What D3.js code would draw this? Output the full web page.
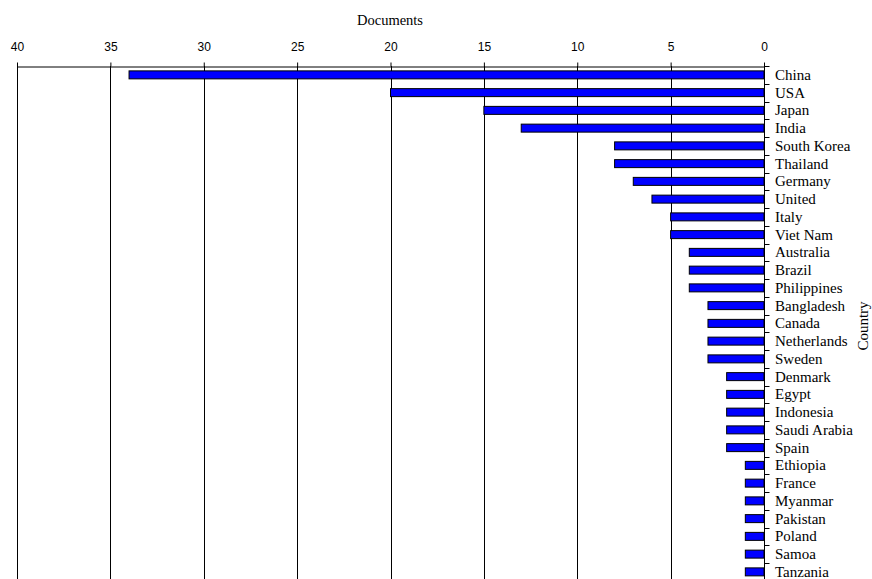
<!DOCTYPE html>
<html>
<head>
<meta charset="utf-8">
<script src="https://cdn.jsdelivr.net/npm/d3@7"></script>
<style>
  html, body { margin: 0; padding: 0; background: #fff; }
  svg { display: block; }
</style>
</head>
<body>
<svg id="chart" width="872" height="579"></svg>
<script>
// Documents per country
const countries = [
  "China", "USA", "Japan", "India", "South Korea", "Thailand", "Germany",
  "United", "Italy", "Viet Nam", "Australia", "Brazil", "Philippines",
  "Bangladesh", "Canada", "Netherlands", "Sweden", "Denmark", "Egypt",
  "Indonesia", "Saudi Arabia", "Spain", "Ethiopia", "France", "Myanmar",
  "Pakistan", "Poland", "Samoa", "Tanzania"
];
const documents = [
  34, 20, 15, 13, 8, 8, 7,
  6, 5, 5, 4, 4, 4,
  3, 3, 3, 3, 2, 2,
  2, 2, 2, 1, 1, 1,
  1, 1, 1, 1
];
const xTicks = [0, 5, 10, 15, 20, 25, 30, 35, 40];
const xTitle = "Documents";
const yTitle = "Country";

const data = countries.map((c, i) => ({ country: c, value: documents[i] }));

const svg = d3.select("#chart");
const plotLeft = 17, plotRight = 764, plotTop = 66, step = 17.75;
const plotBottom = plotTop + step * countries.length;

const x = d3.scaleLinear().domain([0, 40]).range([plotRight, plotLeft]);
const y = d3.scaleBand().domain(countries).range([plotTop, plotBottom]).padding(0);
const barH = y.bandwidth() * 0.45;

// vertical grid lines
svg.append("g")
  .selectAll("line")
  .data(xTicks.filter(v => v > 0))
  .join("line")
  .attr("x1", d => Math.round(x(d)) + 0.5)
  .attr("x2", d => Math.round(x(d)) + 0.5)
  .attr("y1", plotTop)
  .attr("y2", 600)
  .attr("stroke", "#000")
  .attr("stroke-width", 1);

// bars
svg.append("g")
  .selectAll("rect")
  .data(data)
  .join("rect")
  .attr("x", d => x(d.value))
  .attr("y", d => y(d.country) + (y.bandwidth() - barH) / 2)
  .attr("width", d => x(0) - x(d.value))
  .attr("height", barH)
  .attr("fill", "#0000ff")
  .attr("stroke", "#000")
  .attr("stroke-width", 1);

// top axis
const xAxis = svg.append("g")
  .attr("transform", `translate(0,${plotTop + 0.5})`)
  .call(d3.axisTop(x).tickValues(xTicks).tickSize(4).tickSizeOuter(0).tickPadding(12));
xAxis.selectAll("text")
  .attr("font-family", "'Liberation Sans', Arial, sans-serif")
  .attr("font-size", 12)
  .attr("fill", "#000");
xAxis.selectAll("line, path").attr("stroke", "#000");

// right axis: line, boundary ticks and category labels
const yAxis = svg.append("g").attr("transform", `translate(${plotRight + 0.5},0)`);
yAxis.append("line")
  .attr("x1", 0).attr("x2", 0)
  .attr("y1", plotTop).attr("y2", 600)
  .attr("stroke", "#000");
yAxis.selectAll("line.tick")
  .data(countries.map(c => y(c)).concat([plotBottom]))
  .join("line")
  .attr("class", "tick")
  .attr("x1", 0).attr("x2", 5)
  .attr("y1", d => Math.round(d) + 0.5)
  .attr("y2", d => Math.round(d) + 0.5)
  .attr("stroke", "#000");
yAxis.selectAll("text")
  .data(countries)
  .join("text")
  .attr("x", 10.5)
  .attr("y", d => y(d) + y.bandwidth() / 2)
  .attr("dy", "0.34em")
  .attr("font-family", "'Liberation Serif', 'Times New Roman', serif")
  .attr("font-size", 15)
  .attr("fill", "#000")
  .text(d => d);

// titles
svg.append("text")
  .attr("x", 390)
  .attr("y", 25)
  .attr("text-anchor", "middle")
  .attr("font-family", "'Liberation Serif', 'Times New Roman', serif")
  .attr("font-size", 14.5)
  .attr("fill", "#000")
  .text(xTitle);

svg.append("text")
  .attr("transform", "translate(867.5,326) rotate(-90)")
  .attr("text-anchor", "middle")
  .attr("font-family", "'Liberation Serif', 'Times New Roman', serif")
  .attr("font-size", 15)
  .attr("fill", "#000")
  .text(yTitle);
</script>
</body>
</html>
